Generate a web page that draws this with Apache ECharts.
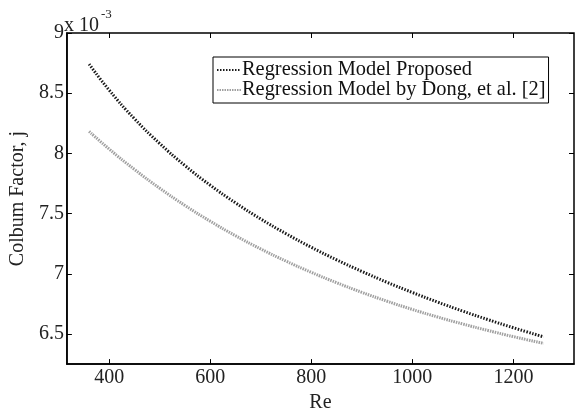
<!DOCTYPE html>
<html><head><meta charset="utf-8">
<script src="https://cdn.jsdelivr.net/npm/echarts@6/dist/echarts.min.js"></script>
<style>html,body{margin:0;padding:0;background:#fff}#c{width:575px;height:418px}</style>
</head><body><div id="c"></div>
<script>
const reynolds = [360, 400, 450, 500, 550, 600, 650, 700, 750, 800, 850, 900, 950, 1000, 1050, 1100, 1150, 1200, 1260];
const proposed = [8.742, 8.524, 8.287, 8.081, 7.898, 7.735, 7.589, 7.455, 7.333, 7.220, 7.116, 7.020, 6.929, 6.845, 6.765, 6.690, 6.619, 6.552, 6.476];
const dong = [8.183, 8.035, 7.866, 7.710, 7.567, 7.436, 7.316, 7.206, 7.105, 7.012, 6.926, 6.846, 6.772, 6.704, 6.641, 6.583, 6.529, 6.478, 6.422];
const seriesNames = ['Regression Model Proposed', 'Regression Model by Dong, et al. [2]'];
const xTicks = [400, 600, 800, 1000, 1200];
const yTicks = [6.5, 7, 7.5, 8, 8.5, 9];
const exponentBase = 'x 10';
const exponentPower = '-3';

const FONT = 'Liberation Serif';
const chart = echarts.init(document.getElementById('c'));
const tickStyle = {show: true, inside: true, length: 5, lineStyle: {color: '#000', width: 1}};
chart.setOption({
  animation: false,
  backgroundColor: '#fff',
  textStyle: {fontFamily: FONT},
  grid: {left: 64, top: 33, right: 1, bottom: 44, show: true, borderColor: '#000', borderWidth: 1.5, containLabel: false},
  graphic: [
    {type: 'text', left: 64, top: 16, style: {text: exponentBase, font: '20px "Liberation Serif"', fill: '#222'}},
    {type: 'text', left: 101, top: 8, style: {text: exponentPower, font: '13px "Liberation Serif"', fill: '#222'}}
  ],
  legend: {
    orient: 'vertical', left: 213, top: 57, itemWidth: 24, itemHeight: 10, itemGap: 0,
    padding: [3, 3, 3, 3], borderColor: '#000', borderWidth: 1, backgroundColor: '#fff',
    itemStyle: {opacity: 0},
    textStyle: {fontFamily: FONT, fontSize: 20.4, color: '#111', padding: [0, 0, 0, -4]},
    data: seriesNames
  },
  xAxis: [{
    type: 'value', min: 316, max: 1320, position: 'bottom',
    name: 'Re', nameLocation: 'middle', nameGap: 22,
    nameTextStyle: {fontFamily: FONT, fontSize: 20, color: '#222'},
    axisLine: {show: true, lineStyle: {color: '#000', width: 1.5}},
    axisTick: Object.assign({customValues: xTicks}, tickStyle),
    axisLabel: {customValues: xTicks, fontFamily: FONT, fontSize: 20, color: '#222', margin: 4, formatter: v => String(v)},
    splitLine: {show: false}
  }, {
    type: 'value', min: 316, max: 1320, position: 'top',
    axisLine: {show: false}, axisTick: Object.assign({customValues: xTicks}, tickStyle),
    axisLabel: {show: false}, splitLine: {show: false}
  }],
  yAxis: [{
    type: 'value', min: 6.25, max: 9, position: 'left',
    name: 'Colbum Factor, j', nameLocation: 'middle', nameGap: 30,
    nameTextStyle: {fontFamily: FONT, fontSize: 20, color: '#222'},
    axisLine: {show: true, lineStyle: {color: '#000', width: 1.5}},
    axisTick: Object.assign({customValues: yTicks}, tickStyle),
    axisLabel: {customValues: yTicks, fontFamily: FONT, fontSize: 20, color: '#222', margin: 3, formatter: v => String(v)},
    splitLine: {show: false}
  }, {
    type: 'value', min: 6.25, max: 9, position: 'right',
    axisLine: {show: false}, axisTick: Object.assign({customValues: yTicks}, tickStyle),
    axisLabel: {show: false}, splitLine: {show: false}
  }],
  series: [{
    name: seriesNames[0], type: 'line', smooth: true, symbol: 'none',
    data: reynolds.map((r, i) => [r, proposed[i]]),
    itemStyle: {color: '#1a1a1a'},
    lineStyle: {color: '#1a1a1a', width: 3, type: [1.5, 1.5]}
  }, {
    name: seriesNames[1], type: 'line', smooth: true, symbol: 'none',
    data: reynolds.map((r, i) => [r, dong[i]]),
    itemStyle: {color: '#a0a0a0'},
    lineStyle: {color: '#a0a0a0', width: 3, type: [1.5, 1]}
  }]
});
</script></body></html>
